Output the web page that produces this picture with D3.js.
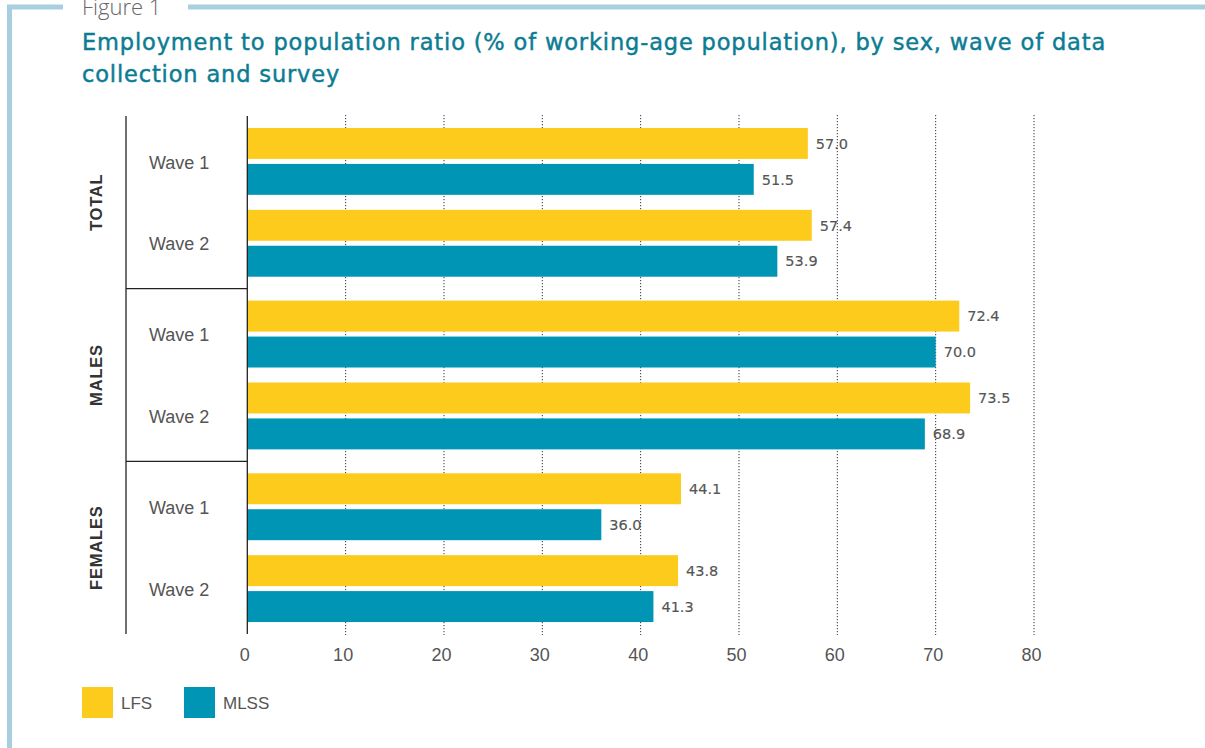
<!DOCTYPE html>
<html>
<head>
<meta charset="utf-8">
<script src="https://cdn.jsdelivr.net/npm/d3@7"></script>
<style>
  html, body { margin: 0; padding: 0; background: #fff; }
  svg { display: block; }
</style>
</head>
<body>
<svg id="chart" width="1205" height="748"></svg>
<script>
// ---- data ----
const sexes = ["TOTAL", "MALES", "FEMALES"];
const waves = ["Wave 1", "Wave 2"];
const seriesNames = ["LFS", "MLSS"];
const lfsValues  = [57.0, 57.4, 72.4, 73.5, 44.1, 43.8];   // order: sex x wave
const mlssValues = [51.5, 53.9, 70.0, 68.9, 36.0, 41.3];
const xTicks = [0, 10, 20, 30, 40, 50, 60, 70, 80];
const seriesColors = ["#FDCB1C", "#0094B5"];

const rows = [];
sexes.forEach((s, i) => waves.forEach((w, j) => {
  const k = i * waves.length + j;
  rows.push({ sex: s, wave: w, values: [lfsValues[k], mlssValues[k]] });
}));

const svg = d3.select("#chart");
const frameColor = "#A8CFE0";

// ---- frame ----
svg.append("path")
  .attr("d", "M9.5,748 L9.5,7 L63,7")
  .attr("fill", "none").attr("stroke", frameColor).attr("stroke-width", 5);
svg.append("line").attr("x1", 188).attr("x2", 1205).attr("y1", 7).attr("y2", 7)
  .attr("stroke", frameColor).attr("stroke-width", 5);

svg.append("text").attr("x", 82).attr("y", 15)
  .attr("font-family", "Open Sans").attr("font-weight", 300).attr("font-size", 22)
  .attr("fill", "#666").text("Figure 1");

const titleLines = ["Employment to population ratio (% of working-age population), by sex, wave of data",
                    "collection and survey"];
svg.append("text").attr("font-family", "DejaVu Sans")
  .attr("font-size", 22.5).attr("fill", "#0B7C93")
  .attr("stroke", "#0B7C93").attr("stroke-width", 0.45)
  .attr("letter-spacing", 0.85)
  .selectAll("tspan").data(titleLines).join("tspan")
  .attr("x", 82).attr("y", (d, i) => 50 + i * 32).text(d => d);

// ---- scales ----
const plotTop = 116, plotBottom = 634, plotLeft = 247.3, plotRight = 1034;
const x = d3.scaleLinear().domain([0, 80]).range([plotLeft, plotRight]);
const ySex = d3.scaleBand().domain(sexes).range([plotTop, plotBottom]).padding(0);
const yWave = d3.scaleBand().domain(waves).range([0, ySex.bandwidth()])
  .paddingInner(0.183).paddingOuter(0.146);
const ySeries = d3.scaleBand().domain(seriesNames).range([0, yWave.bandwidth()])
  .paddingInner(0.139).paddingOuter(0);

// ---- gridlines ----
svg.append("g").selectAll("line").data(xTicks.filter(t => t > 0)).join("line")
  .attr("x1", d => x(d)).attr("x2", d => x(d))
  .attr("y1", plotTop - 1).attr("y2", plotBottom + 1)
  .attr("stroke", "#333").attr("stroke-width", 1).attr("stroke-dasharray", "1.2,1.8");

// ---- bars ----
const rowG = svg.append("g").selectAll("g").data(rows).join("g")
  .attr("transform", d => `translate(0,${ySex(d.sex) + yWave(d.wave)})`);

rowG.selectAll("rect").data(d => d.values.map((v, i) => ({ v, s: seriesNames[i], i })))
  .join("rect")
  .attr("x", x(0)).attr("y", d => ySeries(d.s))
  .attr("width", d => x(d.v) - x(0)).attr("height", ySeries.bandwidth())
  .attr("fill", d => seriesColors[d.i]);

rowG.selectAll("text.val").data(d => d.values.map((v, i) => ({ v, s: seriesNames[i] })))
  .join("text").attr("class", "val")
  .attr("x", d => x(d.v) + 8).attr("y", d => ySeries(d.s) + ySeries.bandwidth() / 2)
  .attr("dy", "0.36em")
  .attr("font-family", "DejaVu Sans").attr("font-size", 14.5).attr("fill", "#555")
  .attr("stroke", "#555").attr("stroke-width", 0.15)
  .text(d => d3.format(".1f")(d.v));

// ---- category structure ----
const axisColor = "#222";
svg.append("line").attr("x1", 126).attr("x2", 126).attr("y1", plotTop).attr("y2", plotBottom)
  .attr("stroke", axisColor).attr("stroke-width", 1.3);
svg.append("line").attr("x1", x(0)).attr("x2", x(0)).attr("y1", plotTop).attr("y2", plotBottom)
  .attr("stroke", axisColor).attr("stroke-width", 1.3);
svg.append("g").selectAll("line").data(sexes.slice(1)).join("line")
  .attr("x1", 126).attr("x2", x(0)).attr("y1", d => ySex(d)).attr("y2", d => ySex(d))
  .attr("stroke", axisColor).attr("stroke-width", 1.3);

svg.append("g").selectAll("text").data(rows).join("text")
  .attr("x", 149).attr("y", d => ySex(d.sex) + yWave(d.wave) + yWave.bandwidth() / 2)
  .attr("dy", "0.4em")
  .attr("font-family", "Liberation Sans").attr("font-size", 18).attr("fill", "#555")
  .text(d => d.wave);

svg.append("g").selectAll("text").data(sexes).join("text")
  .attr("transform", d => `translate(96,${ySex(d) + ySex.bandwidth() / 2}) rotate(-90)`)
  .attr("text-anchor", "middle").attr("dy", "0.36em")
  .attr("font-family", "Liberation Sans").attr("font-weight", "bold").attr("font-size", 16.5)
  .attr("letter-spacing", 0.8).attr("fill", "#333")
  .text(d => d);

// ---- x axis labels ----
const xAxis = d3.axisBottom(x).tickValues(xTicks).tickSize(0).tickPadding(0);
const gx = svg.append("g").attr("transform", `translate(-3,${plotBottom})`).call(xAxis);
gx.select(".domain").remove();
gx.selectAll("text").attr("y", 27).attr("dy", 0)
  .attr("font-family", "Liberation Sans").attr("font-size", 18).attr("fill", "#555");

// ---- legend ----
const legend = svg.append("g").selectAll("g").data(seriesNames).join("g")
  .attr("transform", (d, i) => `translate(${82 + i * 102},687)`);
legend.append("rect").attr("width", 31).attr("height", 31).attr("fill", (d, i) => seriesColors[i]);
legend.append("text").attr("x", 39).attr("y", 16).attr("dy", "0.36em")
  .attr("font-family", "Liberation Sans").attr("font-size", 17).attr("fill", "#555")
  .text(d => d);
</script>
</body>
</html>
